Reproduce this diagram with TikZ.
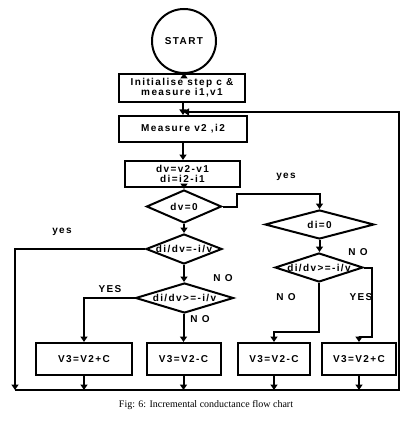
\documentclass[tikz,border=0pt]{standalone}
\usepackage{fontspec}
\setmainfont{Liberation Serif}
\newfontfamily\flowfont[LetterSpace=14]{Liberation Sans}
\usetikzlibrary{shapes.geometric,arrows.meta}
\begin{document}
\begin{tikzpicture}[x=1pt,y=-1pt,
  line width=2pt,
  every node/.style={font=\flowfont\bfseries\fontsize{10}{11.5}\selectfont},
  arr/.style={-{Triangle[width=7pt,length=5.5pt]}},
  box/.style={draw,rectangle,inner sep=0pt,align=center},
  dia/.style={draw,diamond,inner sep=0pt,aspect=1},
  lbl/.style={inner sep=0pt}]
\useasboundingbox (0,0) rectangle (410,422);
% process nodes
\node[draw,circle,minimum size=64pt,inner sep=0pt] (start) at (184,41) {START};
\node[box,minimum width=126pt,minimum height=28pt] (init) at (182,88) {Initialise step c \&\\[-1.5pt] measure i1,v1};
\node[box,minimum width=128pt,minimum height=26pt] (meas) at (183,129) {Measure v2 ,i2};
\node[box,minimum width=115pt,minimum height=26pt] (calc) at (182.5,174) {dv=v2-v1\\[-1.5pt] di=i2-i1};
% decisions
\node[dia,minimum width=75pt,minimum height=33pt,label=center:{dv=0}] (d1) at (184,206.5) {};
\node[dia,minimum width=76pt,minimum height=30pt,label=center:{di/dv=-i/v}] (d2) at (184,249) {};
\node[dia,minimum width=98pt,minimum height=30pt,label=center:{di/dv>=-i/v}] (d3) at (184.5,298) {};
\node[dia,minimum width=109pt,minimum height=29pt,label=center:{di=0}] (d4) at (319.5,224.5) {};
\node[dia,minimum width=88pt,minimum height=29pt,label=center:{di/dv>=-i/v}] (d5) at (319,267.5) {};
% bottom boxes
\node[box,minimum width=96pt,minimum height=32pt] (bA) at (84,359) {V3=V2+C};
\node[box,minimum width=74pt,minimum height=32pt] (bB) at (183.5,359) {V3=V2-C};
\node[box,minimum width=72pt,minimum height=32pt] (bC) at (274,359) {V3=V2-C};
\node[box,minimum width=74pt,minimum height=32pt] (bD) at (359,359) {V3=V2+C};
% coordinates
\coordinate (blc) at (15,390);
\coordinate (brc) at (399,390);
\coordinate (fb) at (183.5,112);
% connectors
\draw[arr] (start.south) -- (init.north -| start.south);
\draw[arr] (init.south -| meas.north) -- (meas.north);
\draw[arr] (meas.south) -- (calc.north -| meas.south);
\draw[arr] (calc.south -| d1.north) -- (d1.north);
\draw[arr] (d1.east) -- (237,206.5) |- (d4.north |- 0,194) -- (d4.north);
\draw[arr] (d1.south) -- (d2.north);
\draw[arr] (d2.west) -| (blc);
\draw[arr] (d2.south) -- (d3.north -| d2.south);
\draw[arr] (d3.west) -| (bA.north);
\draw[arr] (d3.south -| bB.north) -- (bB.north);
\draw[arr] (d4.south) -- (d5.north -| d4.south);
\draw[arr] (d5.south) -- (d5.south |- 0,332) -| (bC.north);
\draw[arr] (d5.east) -- (372,267.5) -- (372,337) -| (bD.north);
\draw[arr] (bA.south) -- (bA.south |- blc);
\draw[arr] (bB.south) -- (bB.south |- blc);
\draw[arr] (bC.south) -- (bC.south |- blc);
\draw[arr] (bD.south) -- (bD.south |- blc);
\draw[arr] (blc) -- (brc) |- (fb);
% labels
\node[lbl] (l1) at (286,177) {yes};
\node[lbl] (l2) at (62,232) {yes};
\node[lbl] (l3) at (223,278) {N O};
\node[lbl] (l4) at (110,289) {YES};
\node[lbl] (l5) at (200,319) {N O};
\node[lbl] (l6) at (358,252) {N O};
\node[lbl] (l7) at (286,297) {N O};
\node[lbl] (l8) at (361,297) {YES};
\node[lbl,font=\rmfamily\fontsize{10}{12}\selectfont] (cap) at (206,405) {Fig: 6: Incremental conductance flow chart};
\end{tikzpicture}
\end{document}
